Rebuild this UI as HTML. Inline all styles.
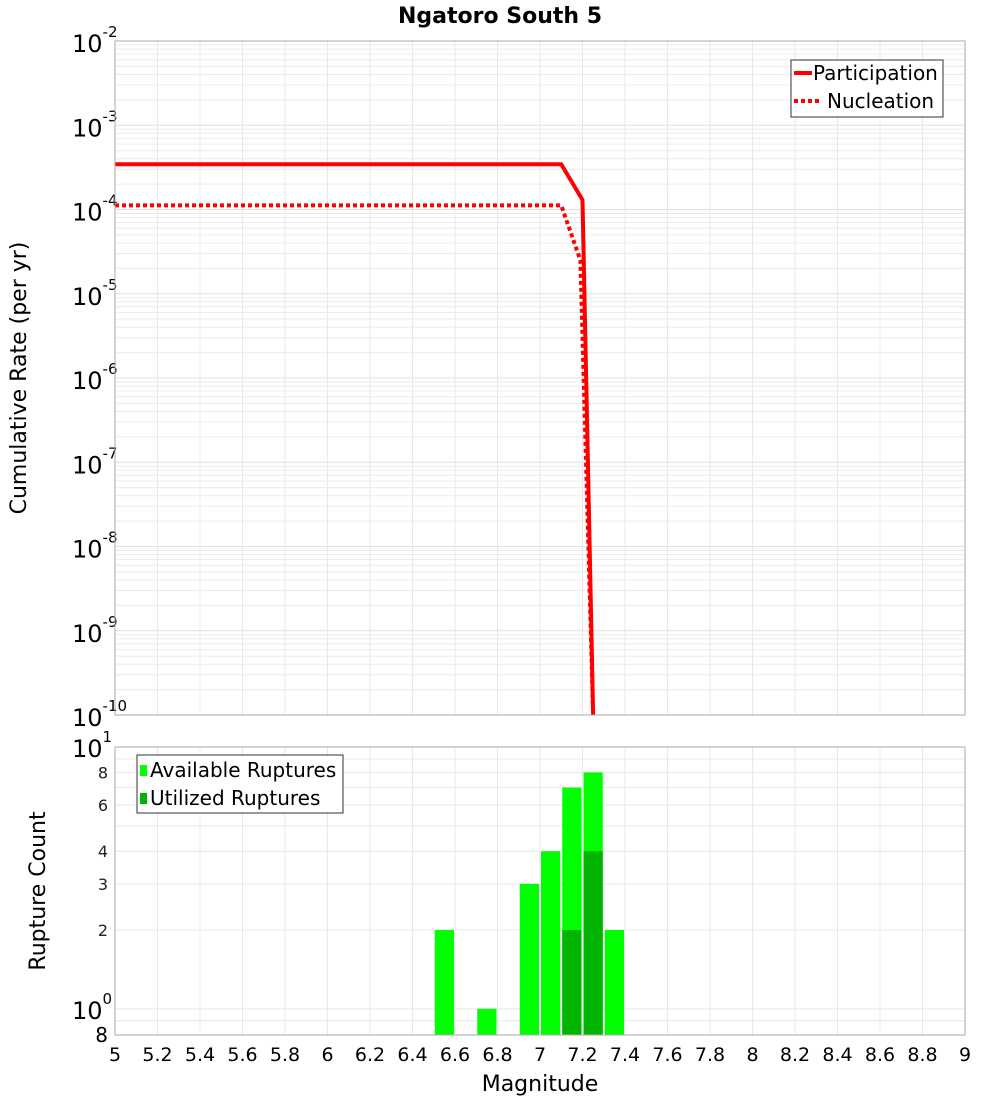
<!DOCTYPE html>
<html><head><meta charset="utf-8"><style>
body{margin:0;background:#fff;font-family:"Liberation Sans","DejaVu Sans",sans-serif}
svg text{font-family:"DejaVu Sans","Liberation Sans",sans-serif}
</style></head><body>
<svg id="c" width="1000" height="1100" xmlns="http://www.w3.org/2000/svg"></svg>
<script>
const xTicks=[5,5.2,5.4,5.6,5.8,6,6.2,6.4,6.6,6.8,7,7.2,7.4,7.6,7.8,8,8.2,8.4,8.6,8.8,9];
const yExps=[-2,-3,-4,-5,-6,-7,-8,-9,-10];
const partMag=[5,7.1,7.2,7.25];
const partRate=[3.45e-4,3.45e-4,1.3e-4,1e-10];
const nuclMag=[5,7.1,7.19,7.25];
const nuclRate=[1.12e-4,1.12e-4,2.5e-5,1e-10];
const binMag=[6.55,6.75,6.95,7.05,7.15,7.25,7.35];
const availCount=[2,1,3,4,7,8,2];
const usedCount=[0,0,0,0,2,4,0];
const countTicks=[8,6,4,3,2];

const NS="http://www.w3.org/2000/svg";
const svg=document.getElementById('c');
function el(t,a,p){const e=document.createElementNS(NS,t);for(const k in a)e.setAttribute(k,a[k]);(p||svg).appendChild(e);return e;}
const X0=115,X1=965;
const xs=m=>X0+(m-5)/4*(X1-X0);
const T0=41,T1=715;
const ys=v=>T0+(-2-Math.log10(v))/8*(T1-T0);
const B0=747,B1=1035;
const yb=v=>B0+(1-Math.log10(v))/1.1*(B1-B0);

let t=el('text',{x:500,y:23,'text-anchor':'middle','font-size':22,'font-weight':'bold'});t.textContent='Ngatoro South 5';


const gTop=el('g',{});
for(let e=-10;e<-2;e++)for(let k=1;k<10;k++){const y=ys(k*Math.pow(10,e));el('line',{x1:X0,x2:X1,y1:y,y2:y,stroke:k==1?'#e0e0e0':'#ececec','stroke-width':1},gTop);}
xTicks.forEach(m=>{el('line',{x1:xs(m),x2:xs(m),y1:T0,y2:T1,stroke:'#e8e8e8'},gTop);el('line',{x1:xs(m),x2:xs(m),y1:B0,y2:B1,stroke:'#e8e8e8'},gTop);});
for(let k=1;k<=10;k++){const y=yb(k);el('line',{x1:X0,x2:X1,y1:y,y2:y,stroke:'#e8e8e8'},gTop);}
el('line',{x1:X0,x2:X1,y1:yb(0.9),y2:yb(0.9),stroke:'#e8e8e8'},gTop);

yExps.forEach(e=>{const y=ys(Math.pow(10,e));
 const tx=el('text',{x:72,y:y+11,'font-size':24});tx.textContent='10';
 const s=el('tspan',{dy:-15,'font-size':15});s.textContent=String(e);tx.appendChild(s);
 });
t=el('text',{transform:'translate(26,378) rotate(-90)','text-anchor':'middle','font-size':22});t.textContent='Cumulative Rate (per yr)';


function pts(ms,vs,f){return ms.map((m,i)=>xs(m)+','+f(Math.max(vs[i],1e-11))).join(' ');}
const clipT=el('clipPath',{id:'ct'});el('rect',{x:X0,y:T0,width:X1-X0,height:T1-T0},clipT);
let p=el('polyline',{points:pts(partMag,partRate,ys),fill:'none',stroke:'#ff0000','stroke-width':4,'clip-path':'url(#ct)'});

p=el('polyline',{points:pts(nuclMag,nuclRate,ys),fill:'none',stroke:'#ff0000','stroke-width':4,'stroke-dasharray':'4 3','clip-path':'url(#ct)'});

el('rect',{x:X0,y:T0,width:X1-X0,height:T1-T0,fill:'none',stroke:'#aaa'});

const lg=el('g',{});
el('rect',{x:791,y:60,width:152,height:57,fill:'#fff',stroke:'#333'},lg);
el('line',{x1:794,x2:812,y1:73,y2:73,stroke:'#f00','stroke-width':4},lg);
el('line',{x1:794,x2:822,y1:101,y2:101,stroke:'#f00','stroke-width':4,'stroke-dasharray':'4 3'},lg);
t=el('text',{x:813,y:80,'font-size':20},lg);t.textContent='Participation';
t=el('text',{x:827,y:108,'font-size':20},lg);t.textContent='Nucleation';

binMag.forEach((m,i)=>{
 let r=el('rect',{x:xs(m-0.05)+1,y:yb(availCount[i]),width:xs(0.1+5)-X0-2,height:B1-yb(availCount[i]),fill:'#00ff00'});
 
 if(usedCount[i]>0){r=el('rect',{x:xs(m-0.05)+1,y:yb(usedCount[i]),width:xs(0.1+5)-X0-2,height:B1-yb(usedCount[i]),fill:'#00b400'});
 }
});
el('rect',{x:X0,y:B0,width:X1-X0,height:B1-B0,fill:'none',stroke:'#aaa'});

countTicks.forEach(v=>{t=el('text',{x:108,y:yb(v)+6,'text-anchor':'end','font-size':16,fill:'#222'});t.textContent=String(v);
 });
t=el('text',{x:72,y:757,'font-size':24});t.textContent='10';let s=el('tspan',{dy:-15,'font-size':15},t);s.textContent='1';
t=el('text',{x:72,y:1019,'font-size':24});t.textContent='10';s=el('tspan',{dy:-15,'font-size':15},t);s.textContent='0';
t=el('text',{x:108,y:1042,'text-anchor':'end','font-size':20});t.textContent='8';
t=el('text',{transform:'translate(45,891) rotate(-90)','text-anchor':'middle','font-size':22});t.textContent='Rupture Count';


const lg2=el('g',{});
el('rect',{x:137,y:755,width:206,height:58,fill:'#fff',stroke:'#333'},lg2);
el('rect',{x:140,y:765,width:7,height:11,fill:'#00ff00'},lg2);
el('rect',{x:140,y:793,width:7,height:11,fill:'#00b400'},lg2);
t=el('text',{x:150,y:777,'font-size':20},lg2);t.textContent='Available Ruptures';
t=el('text',{x:150,y:805,'font-size':20},lg2);t.textContent='Utilized Ruptures';

xTicks.forEach(m=>{t=el('text',{x:xs(m),y:1061,'text-anchor':'middle','font-size':19});t.textContent=String(m);
 });
t=el('text',{x:540,y:1091,'text-anchor':'middle','font-size':22});t.textContent='Magnitude';

</script>
</body></html>
